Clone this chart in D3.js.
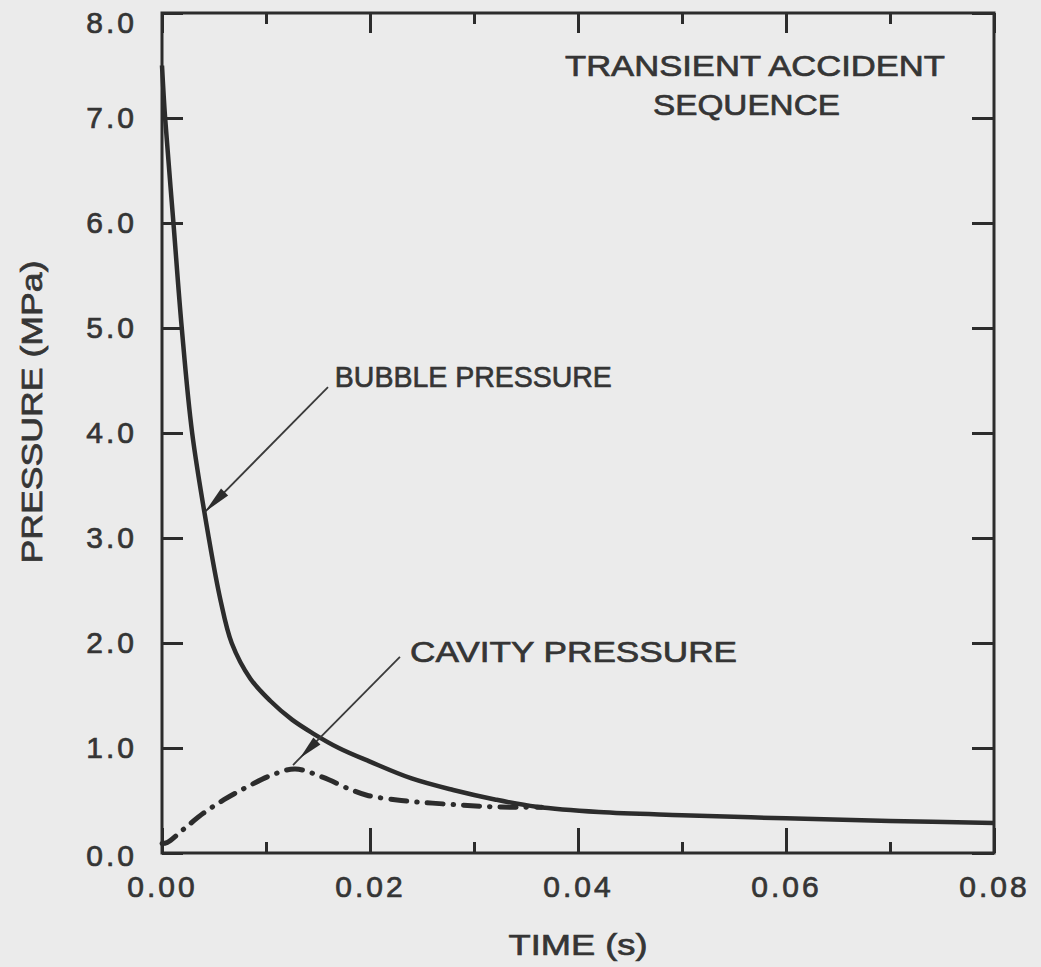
<!DOCTYPE html>
<html>
<head>
<meta charset="utf-8">
<script src="https://cdn.jsdelivr.net/npm/d3@7"></script>
<style>
  html, body { margin: 0; padding: 0; background: #ebebeb; }
  svg { display: block; }
  text { font-family: "Liberation Sans", Arial, Helvetica, sans-serif; fill: #353535; stroke: #353535; stroke-width: 0.7px; }
</style>
</head>
<body>
<svg id="chart" width="1041" height="967"></svg>
<script>
// ---- data ----
const bubbleTime = [0, 0.0003, 0.0011, 0.0019, 0.0029, 0.0045, 0.0056, 0.0067, 0.0085, 0.0104, 0.0125, 0.0145, 0.0170, 0.0200, 0.0240, 0.0280, 0.0320, 0.0360, 0.0420, 0.0500, 0.0600, 0.0700, 0.0800];
const bubblePressure = [7.50, 7.00, 6.00, 5.00, 4.00, 3.00, 2.42, 2.00, 1.66, 1.45, 1.27, 1.14, 1.00, 0.87, 0.71, 0.60, 0.51, 0.44, 0.39, 0.36, 0.33, 0.305, 0.285];
const cavityTime = [0, 0.0005, 0.002, 0.004, 0.006, 0.0082, 0.0105, 0.0128, 0.0155, 0.0180, 0.0197, 0.0230, 0.0260, 0.0290, 0.0318, 0.0345, 0.0365];
const cavityPressure = [0.09, 0.10, 0.22, 0.38, 0.51, 0.63, 0.74, 0.80, 0.72, 0.61, 0.55, 0.50, 0.475, 0.455, 0.44, 0.435, 0.435];
const xMajorTicks = [0, 0.02, 0.04, 0.06, 0.08];
const xMinorTicks = [0.01, 0.03, 0.05, 0.07];
const yTicks = [0, 1, 2, 3, 4, 5, 6, 7, 8];
const xLabel = "TIME (s)";
const yLabel = "PRESSURE (MPa)";
const titleLines = ["TRANSIENT ACCIDENT", "SEQUENCE"];
const bubbleLabel = "BUBBLE PRESSURE";
const cavityLabel = "CAVITY PRESSURE";

// ---- layout ----
const svg = d3.select("#chart");
const mL = 162, mR = 994, mT = 13, mB = 853;
const x = d3.scaleLinear().domain([0, 0.08]).range([mL, mR]);
const y = d3.scaleLinear().domain([0, 8]).range([mB, mT]);
const ink = "#2c2c2c";

svg.append("rect").attr("width", 1041).attr("height", 967).attr("fill", "#ebebeb");

function styleAxis(g) {
  g.select(".domain").remove();
  g.selectAll(".tick line").attr("stroke", ink).attr("stroke-width", 3);
  g.selectAll(".tick text")
    .style("font-family", '"Liberation Sans", Arial, sans-serif')
    .style("font-size", "30px").style("letter-spacing", "3px")
    .attr("fill", "#353535").attr("stroke", "#353535").attr("stroke-width", 0.7);
}

// bottom major
svg.append("g").attr("transform", `translate(0,${mB})`)
  .call(d3.axisBottom(x).tickValues(xMajorTicks).tickFormat(d3.format(".2f")).tickSize(-25).tickPadding(23))
  .call(styleAxis);
// bottom minor
svg.append("g").attr("transform", `translate(0,${mB})`)
  .call(d3.axisBottom(x).tickValues(xMinorTicks).tickFormat("").tickSize(-11))
  .call(styleAxis);
// top major/minor
svg.append("g").attr("transform", `translate(0,${mT})`)
  .call(d3.axisTop(x).tickValues(xMajorTicks).tickFormat("").tickSize(-20))
  .call(styleAxis);
svg.append("g").attr("transform", `translate(0,${mT})`)
  .call(d3.axisTop(x).tickValues(xMinorTicks).tickFormat("").tickSize(-11))
  .call(styleAxis);
// left
const yAxisG = svg.append("g").attr("transform", `translate(${mL},0)`)
  .call(d3.axisLeft(y).tickValues(yTicks).tickFormat(d3.format(".1f")).tickSize(-21).tickPadding(25))
  .call(styleAxis);
yAxisG.selectAll(".tick text").filter(d => d === 8).attr("transform", "translate(0,10)");
yAxisG.selectAll(".tick text").filter(d => d === 0).attr("transform", "translate(0,3)");
// right
svg.append("g").attr("transform", `translate(${mR},0)`)
  .call(d3.axisRight(y).tickValues(yTicks).tickFormat("").tickSize(-22))
  .call(styleAxis);

// frame
svg.append("rect").attr("x", mL).attr("y", mT).attr("width", mR - mL).attr("height", mB - mT)
  .attr("fill", "none").attr("stroke", ink).attr("stroke-width", 3);

// ---- curves ----
const line = d3.line().x(d => x(d[0])).y(d => y(d[1])).curve(d3.curveCatmullRom.alpha(0.5));
const cavityData = cavityTime.map((t, i) => [t, cavityPressure[i]]);
const bubbleData = bubbleTime.map((t, i) => [t, bubblePressure[i]]);

svg.append("path").datum(cavityData).attr("d", line)
  .attr("fill", "none").attr("stroke", ink).attr("stroke-width", 5)
  .attr("stroke-linecap", "round").attr("stroke-dasharray", "16,10,0.5,10");
svg.append("path").datum(bubbleData).attr("d", line)
  .attr("fill", "none").attr("stroke", ink).attr("stroke-width", 4.5)
  .attr("stroke-linejoin", "round");

// ---- annotations (positions in data units) ----
function arrow(from, to, tip, headLen, headHalf) {
  const x0 = x(from[0]), y0 = y(from[1]), x1 = x(to[0]), y1 = y(to[1]);
  svg.append("line").attr("x1", x0).attr("y1", y0).attr("x2", x1).attr("y2", y1)
    .attr("stroke", "#3a3a3a").attr("stroke-width", 1.8);
  const tx = x(tip[0]), ty = y(tip[1]);
  const dx = x1 - x0, dy = y1 - y0, L = Math.hypot(dx, dy);
  const ux = dx / L, uy = dy / L;
  const bx = tx - ux * headLen, by = ty - uy * headLen;
  const px = -uy * headHalf, py = ux * headHalf;
  svg.append("path")
    .attr("d", `M${tx},${ty}L${bx + px},${by + py}L${bx - px},${by - py}Z`)
    .attr("fill", "#2c2c2c");
}
arrow([0.01596, 4.438], [0.00413, 3.248], [0.00413, 3.248], 28, 5);
arrow([0.02288, 1.867], [0.0126, 0.838], [0.01327, 0.905], 24, 5);

function label(txt, xs, ys, len) {
  svg.append("text").attr("x", xs).attr("y", ys)
    .attr("textLength", len).attr("lengthAdjust", "spacingAndGlyphs")
    .style("font-size", "30px").text(txt);
}
label(bubbleLabel, x(0.01662), y(4.438), 277);
label(cavityLabel, x(0.02385), y(1.819), 327);
label(titleLines[0], x(0.03875), y(7.40), 380);
label(titleLines[1], x(0.04721), y(7.029), 187);

// axis titles
svg.append("text").attr("x", (mL + mR) / 2).attr("y", 955)
  .attr("text-anchor", "middle").attr("textLength", 139).attr("lengthAdjust", "spacingAndGlyphs")
  .style("font-size", "30px").text(xLabel);
svg.append("text").attr("transform", "translate(42,412) rotate(-90)")
  .attr("text-anchor", "middle").attr("textLength", 303).attr("lengthAdjust", "spacingAndGlyphs")
  .style("font-size", "30px").text(yLabel);
</script>
</body>
</html>
